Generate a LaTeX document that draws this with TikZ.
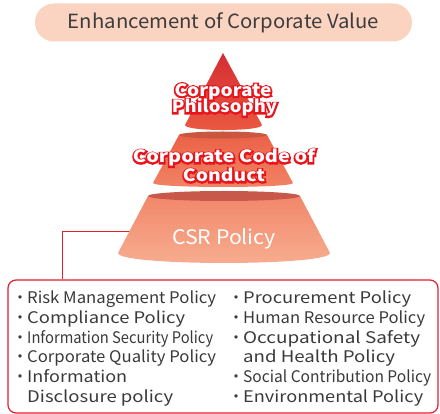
\documentclass[tikz,border=0pt]{standalone}
\usepackage{fontspec}
\setmainfont{Noto Sans CJK JP}
\newfontfamily\glowfam{Noto Sans CJK JP}[BoldFeatures={FakeBold=18}]
\usepackage{graphicx}
\usetikzlibrary{calc}
\definecolor{bannerpink}{HTML}{FBD3C1}
\definecolor{titlegray}{HTML}{3C3C3C}
\definecolor{listgray}{HTML}{3A3A3A}
\definecolor{csrred}{HTML}{E61E2D}
\definecolor{glowred}{HTML}{E8141C}
\definecolor{tierAtop}{HTML}{D42D32}
\definecolor{tierAbot}{HTML}{EB5942}
\definecolor{tierBtop}{HTML}{EB6247}
\definecolor{tierBbot}{HTML}{F18364}
\definecolor{tierBcap}{HTML}{C9573F}
\definecolor{tierCtop}{HTML}{F2876A}
\definecolor{tierCbot}{HTML}{F7AE91}
\definecolor{tierCcap}{HTML}{C8584A}
\DeclareRobustCommand{\fitw}[2]{\resizebox{#1pt}{\height}{#2}}
\newcommand{\glow}[2]{\rlap{\glowfam\bfseries\color{glowred}\fitw{#1}{#2}}\fitw{#1}{#2}}
\newcommand{\bul}[2]{\makebox[9pt][l]{\makebox[4pt][c]{・}}\fitw{#1}{#2}}
\tikzstyle{banner} = [rounded corners=19pt, fill=bannerpink, minimum width=377pt, minimum height=38pt, inner sep=0pt, text=titlegray, font=\fontsize{19.5}{20}\selectfont]
\tikzstyle{tierlabel} = [anchor=base, inner sep=0pt, text=white, font=\bfseries\fontsize{17}{17}\selectfont]
\tikzstyle{csrlabel} = [anchor=base, inner sep=0pt, text=white, font=\fontsize{20}{20}\selectfont]
\tikzstyle{listbox} = [draw=csrred, line width=1.2pt, rounded corners=8pt, fill=white, minimum width=430pt, minimum height=133pt, inner sep=0pt]
\tikzstyle{entry} = [anchor=base west, inner sep=0pt, text=listgray, font=\fontsize{16}{18}\selectfont]
\tikzstyle{link} = [draw=csrred, line width=1pt]

\begin{document}
\begin{tikzpicture}[x=1pt,y=-1pt]
\useasboundingbox (0,0) rectangle (440,414);

\node[banner] (title) at (223.5,22.5) {\fitw{311}{Enhancement of Corporate Value}};

    \coordinate (csrside) at (135,232);
    \coordinate (turn) at (62,232);
\node[listbox] (box) at (223,346.5) {};
    \draw[link] (csrside) -- (turn) -- (turn |- box.north);

	% pyramid
	\shade[top color=tierCtop, bottom color=tierCbot] (148,196) -- (118,253) .. controls (118,266.3) and (330,266.3) .. (330,253) -- (300,196) -- cycle;
	\fill[tierCcap] (224,196) ellipse [x radius=76pt, y radius=5pt];

	\shade[top color=tierBtop, bottom color=tierBbot] (179,135) -- (153,183) .. controls (153,188.3) and (293,188.3) .. (293,183) -- (267,135) -- cycle;
	\fill[tierBcap] (223,135) ellipse [x radius=44pt, y radius=3.5pt];

	\shade[top color=tierAtop, bottom color=tierAbot] (223,53) -- (185,125) .. controls (185,131.7) and (262,131.7) .. (262,125) -- cycle;

    \node[tierlabel] (philoA) at (223,96.5) {\glow{97}{Corporate}};
    \node[tierlabel] (philoB) at (224.5,113) {\glow{105}{Philosophy}};
    \node[tierlabel] (codeA) at (224,163) {\glow{182}{Corporate Code of}};
    \node[tierlabel] (codeB) at (224,182) {\glow{82}{Conduct}};
    \node[csrlabel] (csr) at (224,245) {\fitw{104}{CSR Policy}};

	\node[entry] (risk) at (18,304) {\bul{189}{Risk Management Policy}};
	\node[entry] (compliance) at (18,324) {\bul{158}{Compliance Policy}};
	\node[entry] (security) at (18,343.5) {\bul{186}{Information Security Policy}};
	\node[entry] (quality) at (18,363) {\bul{189}{Corporate Quality Policy}};
	\node[entry] (disclosure) at (18,383) {\bul{100}{Information}};
	\node[entry] (disclosuretail) at (27,402.5) {\fitw{146}{Disclosure policy}};

	\node[entry] (procurement) at (234,304) {\bul{168}{Procurement Policy}};
	\node[entry] (human) at (234,324) {\bul{182}{Human Resource Policy}};
	\node[entry] (safety) at (234,343.5) {\bul{177}{Occupational Safety}};
	\node[entry] (safetytail) at (243,363) {\fitw{152}{and Health Policy}};
	\node[entry] (social) at (234,383) {\bul{188}{Social Contribution Policy}};
	\node[entry] (environment) at (234,402.5) {\bul{180}{Environmental Policy}};
\end{tikzpicture}
\end{document}
